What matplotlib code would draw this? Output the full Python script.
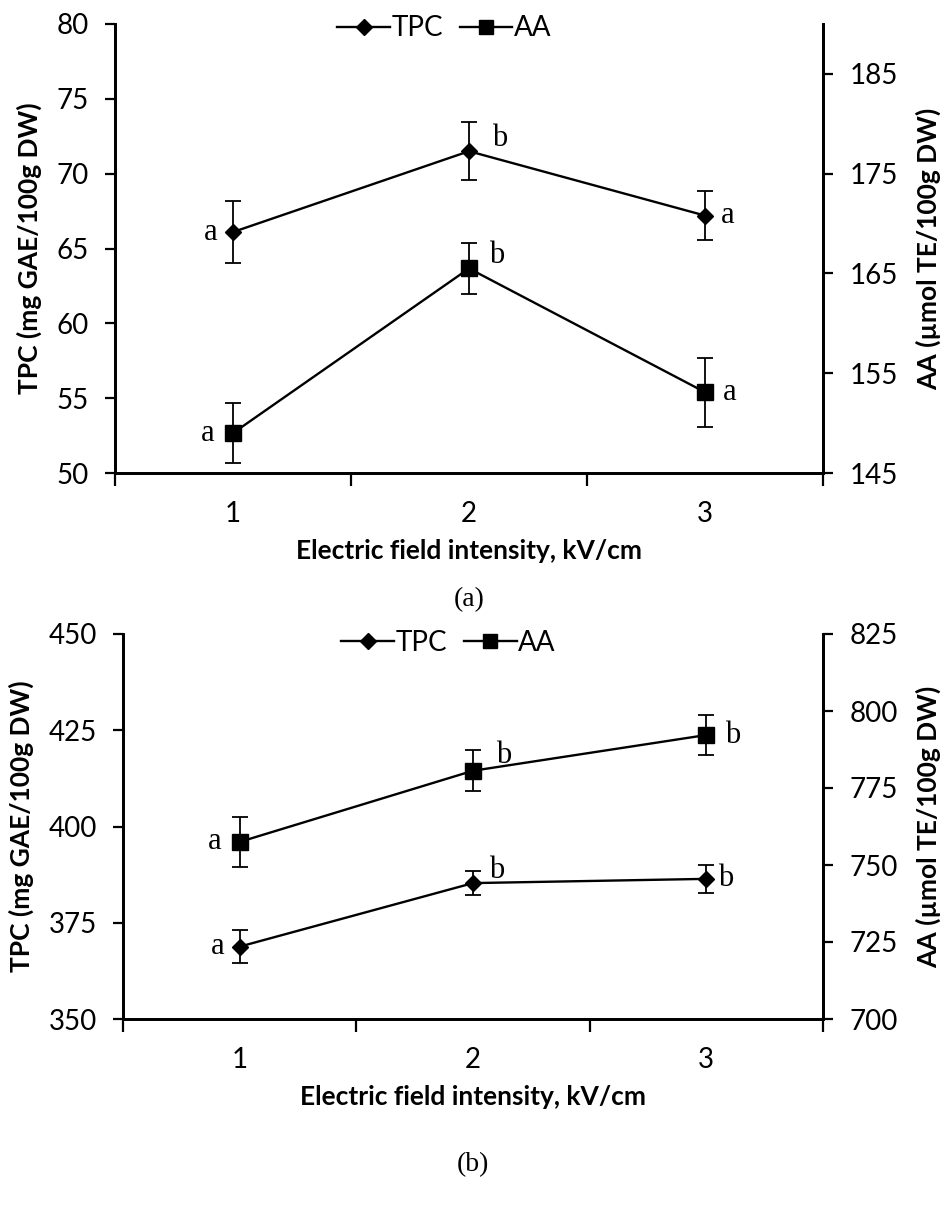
import matplotlib
matplotlib.use("Agg")
import matplotlib.pyplot as plt
from matplotlib.lines import Line2D

# ---------------- data ----------------
field = [1, 2, 3]
x_tick_labels = ["1", "2", "3"]

# panel (a)
tpc_a = [66.1, 71.5, 67.2]
tpc_a_err = [2.1, 1.95, 1.65]
aa_a = [149.0, 165.5, 153.1]
aa_a_err = [3.0, 2.6, 3.45]
tpc_a_letters = ["a", "b", "a"]
aa_a_letters = ["a", "b", "a"]

# panel (b)
tpc_b = [368.8, 385.3, 386.4]
tpc_b_err = [4.2, 3.2, 3.7]
aa_b = [757.5, 780.6, 792.2]
aa_b_err = [8.0, 6.6, 6.6]
tpc_b_letters = ["a", "b", "b"]
aa_b_letters = ["a", "b", "b"]

SANS = ["Lato", "DejaVu Sans"]
SERIF = ["Liberation Serif", "DejaVu Serif"]

fig = plt.figure(figsize=(9.48, 12.21), dpi=100)

TICK_FS = 20
LAB_FS = 19
LET_FS = 22

def panel(rect, tpc, tpc_err, aa, aa_err, tl, al, ylim_l, yticks_l, ylim_r, yticks_r,
          tpc_offs, aa_offs, caption, cap_y):
    ax = fig.add_axes(rect)
    ax2 = ax.twinx()
    lw = 1.7
    ax.errorbar(field, tpc, yerr=tpc_err, color="black", lw=lw, marker="D", ms=8,
                capsize=6, elinewidth=1.3, capthick=1.3, zorder=3)
    ax2.errorbar(field, aa, yerr=aa_err, color="black", lw=lw, marker="s", ms=11,
                 capsize=6, elinewidth=1.3, capthick=1.3, zorder=3)
    for xi, yi, t, (dx, dy) in zip(field, tpc, tl, tpc_offs):
        ax.annotate(t, (xi, yi), xytext=(dx, dy), textcoords="offset points",
                    ha="center", va="center", fontsize=LET_FS, family=SERIF)
    for xi, yi, t, (dx, dy) in zip(field, aa, al, aa_offs):
        ax2.annotate(t, (xi, yi), xytext=(dx, dy), textcoords="offset points",
                     ha="center", va="center", fontsize=LET_FS, family=SERIF)

    ax.set_xlim(0.5, 3.5)
    ax.set_xticks([0.5, 1.5, 2.5, 3.5])
    ax.set_xticklabels([])
    ax.set_xticks(field, minor=True)
    ax.set_xticklabels(x_tick_labels, minor=True, fontsize=TICK_FS, family=SANS)
    ax.tick_params(axis="x", which="major", direction="out", length=9, width=1.6)
    ax.tick_params(axis="x", which="minor", length=0, pad=20)

    ax.set_ylim(*ylim_l)
    ax.set_yticks(yticks_l)
    ax.set_yticklabels([str(v) for v in yticks_l], fontsize=TICK_FS, family=SANS)
    ax.tick_params(axis="y", direction="out", length=7, width=1.6, pad=12)
    ax2.set_ylim(*ylim_r)
    ax2.set_yticks(yticks_r)
    ax2.set_yticklabels([str(v) for v in yticks_r], fontsize=TICK_FS, family=SANS)
    ax2.tick_params(axis="y", direction="out", length=7, width=1.6, pad=12)

    for a in (ax, ax2):
        a.spines["top"].set_visible(False)
        for s in ("left", "right", "bottom"):
            a.spines[s].set_linewidth(2.0)

    ax.set_xlabel("Electric field intensity, kV/cm", fontsize=LAB_FS, fontweight="bold",
                  family=SANS, labelpad=9)
    ax.set_ylabel("TPC (mg GAE/100g DW)", fontsize=LAB_FS, fontweight="bold", family=SANS,
                  labelpad=10)
    ax2.set_ylabel("AA (µmol TE/100g DW)", fontsize=LAB_FS, fontweight="bold", family=SANS,
                   labelpad=13)

    handles = [Line2D([], [], color="black", lw=1.7, marker="D", ms=8),
               Line2D([], [], color="black", lw=1.7, marker="s", ms=10)]
    ax.legend(handles, ["TPC", "AA"], loc="upper center", bbox_to_anchor=(0.465, 1.075),
              ncol=2, frameon=False, prop={"family": SANS, "size": TICK_FS},
              handlelength=1.9, handletextpad=0.05, columnspacing=0.6)
    fig.text(rect[0] + rect[2] / 2, cap_y, caption, ha="center", va="center",
             fontsize=20, family=SERIF)
    return ax, ax2

panel([115 / 948, 1 - 473 / 1221, 708 / 948, 449 / 1221],
      tpc_a, tpc_a_err, aa_a, aa_a_err, tpc_a_letters, aa_a_letters,
      (50, 80), [50, 55, 60, 65, 70, 75, 80], (145, 190), [145, 155, 165, 175, 185],
      [(-16, 0), (22, 9), (16, 0)], [(-18, 0), (20, 9), (18, 0)],
      "(a)", 1 - 600 / 1221)

panel([123 / 948, 1 - 1019 / 1221, 700 / 948, 385 / 1221],
      tpc_b, tpc_b_err, aa_b, aa_b_err, tpc_b_letters, aa_b_letters,
      (350, 450), [350, 375, 400, 425, 450], (700, 825), [700, 725, 750, 775, 800, 825],
      [(-16, 0), (17, 9), (14, 0)], [(-18, 0), (22, 11), (19, 0)],
      "(b)", 1 - 1165 / 1221)

fig.savefig("out.png", dpi=100)
